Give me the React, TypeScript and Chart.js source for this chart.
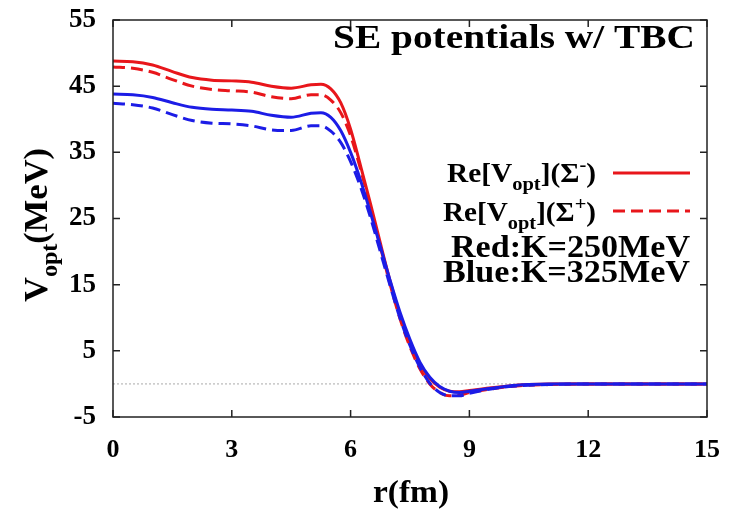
import React, { useEffect, useRef } from "react";
import { Chart, registerables } from "chart.js";

Chart.register(...registerables);

// ---------- data ----------
const R = [0, 0.5, 1, 1.5, 2, 2.5, 3, 3.5, 4, 4.5, 5, 5.25, 5.5, 5.75, 6, 6.25, 6.5, 6.75, 7, 7.25, 7.5, 7.75, 8, 8.25, 8.5, 8.75, 9, 9.5, 10, 10.5, 11, 12, 13, 14, 15];

// Red: K=250MeV
const RED_SIGMA_MINUS = [48.8, 48.7, 48.2, 47.2, 46.3, 45.9, 45.8, 45.6, 45.0, 44.7, 45.2, 45.3, 44.6, 42.5, 38.5, 33.0, 27.3, 21.3, 15.5, 10.3, 6.2, 3.0, 0.8, -0.5, -1.1, -1.2, -1.0, -0.6, -0.3, -0.1, 0, 0, 0, 0, 0];
const RED_SIGMA_PLUS = [47.9, 47.7, 47.1, 46.0, 45.0, 44.5, 44.3, 44.1, 43.4, 43.1, 43.7, 43.7, 42.9, 41.0, 37.5, 32.5, 26.8, 20.8, 15.0, 9.8, 5.6, 2.3, 0.0, -1.3, -1.8, -1.7, -1.3, -0.8, -0.4, -0.2, -0.1, 0, 0, 0, 0];
// Blue: K=325MeV
const BLUE_SIGMA_MINUS = [43.8, 43.7, 43.3, 42.5, 41.8, 41.5, 41.4, 41.2, 40.6, 40.3, 40.9, 41.0, 40.3, 38.3, 35.0, 30.8, 25.9, 20.8, 15.6, 10.8, 6.7, 3.3, 1.0, -0.4, -1.1, -1.3, -1.1, -0.7, -0.3, -0.1, 0, 0, 0, 0, 0];
const BLUE_SIGMA_PLUS = [42.4, 42.2, 41.7, 40.7, 39.8, 39.4, 39.3, 39.0, 38.4, 38.3, 39.0, 39.0, 38.2, 36.5, 33.6, 29.8, 25.2, 20.0, 14.8, 9.9, 5.8, 2.5, 0.1, -1.3, -1.8, -1.8, -1.4, -0.8, -0.4, -0.2, -0.1, 0, 0, 0, 0];

const ZERO_X = [0, 15];
const ZERO_Y = [0, 0];

const X_TICKS = [0, 3, 6, 9, 12, 15];
const Y_TICKS = [-5, 5, 15, 25, 35, 45, 55];

const RED = "#e8161b";
const BLUE = "#1c1ce6";
const FONT = '"Liberation Serif", "Times New Roman", serif';

type Seg = { t: string; k?: "sub" | "sup" };

function drawRich(
  ctx: CanvasRenderingContext2D,
  segs: Seg[],
  size: number,
  x: number,
  y: number,
  align: "left" | "right" | "center",
  width?: number,
  rotate?: number
) {
  ctx.save();
  ctx.translate(x, y);
  if (rotate) ctx.rotate(rotate);
  const items = segs.map((s) => {
    const sz = s.k ? size * 0.7 : size;
    ctx.font = `bold ${sz}px ${FONT}`;
    const w = ctx.measureText(s.t).width;
    const dy = s.k === "sub" ? size * 0.3 : s.k === "sup" ? -size * 0.42 : 0;
    return { t: s.t, sz, w, dy };
  });
  const total = items.reduce((a, b) => a + b.w, 0);
  const sx = width ? width / total : 1;
  ctx.scale(sx, 1);
  let cx = align === "left" ? 0 : align === "right" ? -total : -total / 2;
  ctx.fillStyle = "#000";
  ctx.textBaseline = "alphabetic";
  ctx.textAlign = "left";
  for (const it of items) {
    ctx.font = `bold ${it.sz}px ${FONT}`;
    ctx.fillText(it.t, cx, it.dy);
    cx += it.w;
  }
  ctx.restore();
}

const decorPlugin = {
  id: "decor",
  afterDraw(chart: any) {
    const ctx: CanvasRenderingContext2D = chart.ctx;
    const { left, right, top, bottom } = chart.chartArea;
    const xs = chart.scales.x;
    const ys = chart.scales.y;
    ctx.save();
    // frame
    ctx.strokeStyle = "#222";
    ctx.lineWidth = 1.5;
    ctx.strokeRect(left, top, right - left, bottom - top);
    // inward ticks
    const tl = 7;
    ctx.beginPath();
    for (const v of X_TICKS) {
      const px = xs.getPixelForValue(v);
      ctx.moveTo(px, bottom);
      ctx.lineTo(px, bottom - tl);
      ctx.moveTo(px, top);
      ctx.lineTo(px, top + tl);
    }
    for (const v of Y_TICKS) {
      const py = ys.getPixelForValue(v);
      ctx.moveTo(left, py);
      ctx.lineTo(left + tl, py);
      ctx.moveTo(right, py);
      ctx.lineTo(right - tl, py);
    }
    ctx.stroke();

    // title
    drawRich(ctx, [{ t: "SE potentials w/ TBC" }], 33, 333, 48, "left", 362);

    // legend
    drawRich(ctx, [{ t: "Re[V" }, { t: "opt", k: "sub" }, { t: "](Σ" }, { t: "-", k: "sup" }, { t: ")" }], 27, 447, 182, "left", 149);
    drawRich(ctx, [{ t: "Re[V" }, { t: "opt", k: "sub" }, { t: "](Σ" }, { t: "+", k: "sup" }, { t: ")" }], 27, 443, 221, "left", 153);
    ctx.lineWidth = 3;
    ctx.strokeStyle = RED;
    ctx.setLineDash([]);
    ctx.beginPath();
    ctx.moveTo(613, 173);
    ctx.lineTo(690, 173);
    ctx.stroke();
    ctx.setLineDash([12, 6]);
    ctx.beginPath();
    ctx.moveTo(613, 211);
    ctx.lineTo(690, 211);
    ctx.stroke();
    ctx.setLineDash([]);
    drawRich(ctx, [{ t: "Red:K=250MeV" }], 31, 451, 257, "left", 239);
    drawRich(ctx, [{ t: "Blue:K=325MeV" }], 31, 443, 282, "left", 247);

    // axis titles
    drawRich(ctx, [{ t: "r(fm)" }], 31, 411, 502, "center", 76);
    drawRich(ctx, [{ t: "V" }, { t: "opt", k: "sub" }, { t: "(MeV)" }], 33, 47, 225, "center", 154, -Math.PI / 2);
    ctx.restore();
  },
};

export default function App() {
  const ref = useRef<HTMLCanvasElement>(null);
  useEffect(() => {
    if (!ref.current) return;
    const mk = (ys: number[]) => R.map((x, i) => ({ x, y: ys[i] }));
    const chart = new Chart(ref.current, {
      type: "line",
      data: {
        datasets: [
          { label: "Blue Σ-", data: mk(BLUE_SIGMA_MINUS), borderColor: BLUE, borderWidth: 3, pointRadius: 0, cubicInterpolationMode: "monotone", order: 0 },
          { label: "Blue Σ+", data: mk(BLUE_SIGMA_PLUS), borderColor: BLUE, borderWidth: 3, borderDash: [12, 6], pointRadius: 0, cubicInterpolationMode: "monotone", order: 1 },
          { label: "Red Σ-", data: mk(RED_SIGMA_MINUS), borderColor: RED, borderWidth: 3, pointRadius: 0, cubicInterpolationMode: "monotone", order: 2 },
          { label: "Red Σ+", data: mk(RED_SIGMA_PLUS), borderColor: RED, borderWidth: 3, borderDash: [12, 6], pointRadius: 0, cubicInterpolationMode: "monotone", order: 3 },
          { label: "zero", data: ZERO_X.map((x, i) => ({ x, y: ZERO_Y[i] })), borderColor: "#aaa", borderWidth: 1, borderDash: [2, 2], pointRadius: 0, order: 4 },
        ] as any,
      },
      options: {
        animation: false,
        responsive: true,
        maintainAspectRatio: false,
        layout: { padding: { left: 0, right: 24, top: 20, bottom: 0 } },
        plugins: { legend: { display: false }, tooltip: { enabled: false }, title: { display: false } },
        scales: {
          x: {
            type: "linear",
            min: 0,
            max: 15,
            afterBuildTicks: (s: any) => { s.ticks = X_TICKS.map((v) => ({ value: v })); },
            afterFit: (s: any) => { s.height = 92; },
            grid: { display: false, drawTicks: true, tickLength: 18 },
            border: { display: false },
            ticks: { color: "#000", font: { family: FONT, size: 26, weight: "bold" }, padding: 0, maxRotation: 0, autoSkip: false },
          },
          y: {
            type: "linear",
            min: -5,
            max: 55,
            afterBuildTicks: (s: any) => { s.ticks = Y_TICKS.map((v) => ({ value: v })); },
            afterFit: (s: any) => { s.width = 113; },
            grid: { display: false, drawTicks: true, tickLength: 17 },
            border: { display: false },
            ticks: { color: "#000", font: { family: FONT, size: 27, weight: "bold" }, padding: 0, autoSkip: false },
          },
        },
      } as any,
      plugins: [decorPlugin],
    });
    return () => chart.destroy();
  }, []);
  return (
    <div style={{ position: "fixed", left: 0, top: 0, width: 731, height: 509, background: "#fff" }}>
      <canvas ref={ref} />
    </div>
  );
}
